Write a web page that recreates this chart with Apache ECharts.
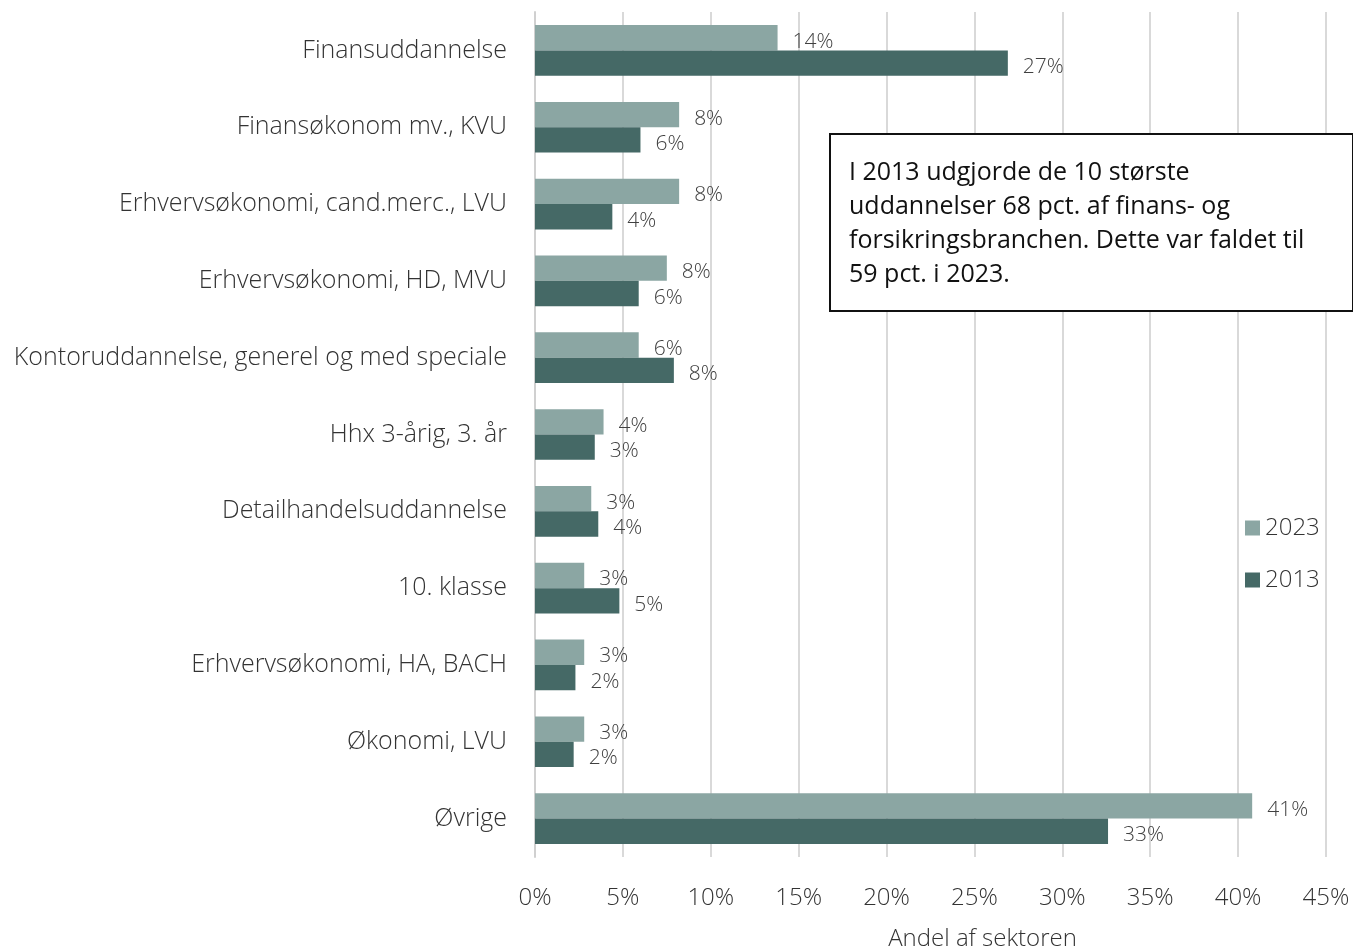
<!DOCTYPE html>
<html lang="da">
<head>
<meta charset="utf-8">
<title>Uddannelser i finans- og forsikringsbranchen</title>
<script src="https://cdn.jsdelivr.net/npm/echarts@6/dist/echarts.min.js"></script>
<style>
  html, body { margin: 0; padding: 0; background: #fff; }
  #chart { width: 1353px; height: 946px; }
</style>
</head>
<body>
<div id="chart"></div>
<script>
// kategorier, øverst først
var categories = [
    'Finansuddannelse',
    'Finansøkonom mv., KVU',
    'Erhvervsøkonomi, cand.merc., LVU',
    'Erhvervsøkonomi, HD, MVU',
    'Kontoruddannelse, generel og med speciale',
    'Hhx 3-årig, 3. år',
    'Detailhandelsuddannelse',
    '10. klasse',
    'Erhvervsøkonomi, HA, BACH',
    'Økonomi, LVU',
    'Øvrige'
];
// andel af sektoren, pct.
var values2023 = [13.8, 8.2, 8.2, 7.5, 5.9, 3.9, 3.2, 2.8, 2.8, 2.8, 40.8];
var values2013 = [26.9, 6.0, 4.4, 5.9, 7.9, 3.4, 3.6, 4.8, 2.3, 2.2, 32.6];
var xTicks = [0, 5, 10, 15, 20, 25, 30, 35, 40, 45];

var noteLines = [
    'I 2013 udgjorde de 10 største',
    'uddannelser 68 pct. af finans- og',
    'forsikringsbranchen. Dette var faldet til',
    '59 pct. i 2023.'
];

var font = '"Open Sans", "Noto Sans", sans-serif';
var chart = echarts.init(document.getElementById('chart'));

function pctLabel(p) {
    return Math.round(p.value) + '%';
}

var option = {
    animation: false,
    textStyle: { fontFamily: font },
    grid: { left: 535, right: 27, top: 12, bottom: 89, containLabel: false, outerBoundsMode: 'none' },
    legend: {
        orient: 'vertical',
        left: 1240,
        top: 511,
        itemWidth: 15,
        itemHeight: 15,
        itemGap: 28,
        icon: 'rect',
        textStyle: { fontSize: 24, color: '#333', fontFamily: font, fontWeight: 300 },
        data: ['2023', '2013']
    },
    xAxis: {
        type: 'value',
        min: xTicks[0],
        max: xTicks[xTicks.length - 1],
        interval: 5,
        name: 'Andel af sektoren',
        nameLocation: 'middle',
        nameGap: 70,
        nameTextStyle: { fontSize: 24, color: '#333', fontWeight: 300, padding: [0, 0, 0, 104] },
        axisLine: { show: false },
        axisTick: { show: false },
        axisLabel: {
            fontSize: 24, color: '#333', fontWeight: 300, margin: 29,
            formatter: function (v) { return v + '%'; }
        },
        splitLine: { show: true, lineStyle: { color: '#d9d9d9', width: 2 } }
    },
    yAxis: {
        type: 'category',
        inverse: true,
        data: categories,
        axisLine: { show: true, lineStyle: { color: '#d0d0d0', width: 2 } },
        axisTick: { show: false },
        axisLabel: { fontSize: 25, color: '#333', fontWeight: 300, margin: 28, padding: [8, 0, 0, 0] }
    },
    series: [
        {
            name: '2023',
            type: 'bar',
            data: values2023,
            barGap: '0%',
            barCategoryGap: '34%',
            itemStyle: { color: '#8ba6a3' },
            label: {
                show: true, position: 'right', distance: 15, offset: [0, 4],
                fontSize: 21, color: '#404040', fontWeight: 300,
                formatter: pctLabel
            }
        },
        {
            name: '2013',
            type: 'bar',
            data: values2013,
            barGap: '0%',
            barCategoryGap: '34%',
            itemStyle: { color: '#456966' },
            label: {
                show: true, position: 'right', distance: 15, offset: [0, 4],
                fontSize: 21, color: '#404040', fontWeight: 300,
                formatter: pctLabel
            }
        }
    ],
    graphic: [
        {
            type: 'group',
            left: 829,
            top: 133,
            z: 100,
            children: [
                {
                    type: 'rect',
                    z: 100,
                    shape: { x: 0, y: 0, width: 523, height: 177 },
                    style: { fill: '#fff', stroke: '#111', lineWidth: 2 }
                },
                {
                    type: 'text',
                    z: 101,
                    x: 19,
                    y: 22,
                    style: {
                        text: noteLines.join('\n'),
                        font: '400 25px ' + font,
                        lineHeight: 34,
                        fill: '#111'
                    }
                }
            ]
        }
    ]
};

chart.setOption(option);
</script>
</body>
</html>
